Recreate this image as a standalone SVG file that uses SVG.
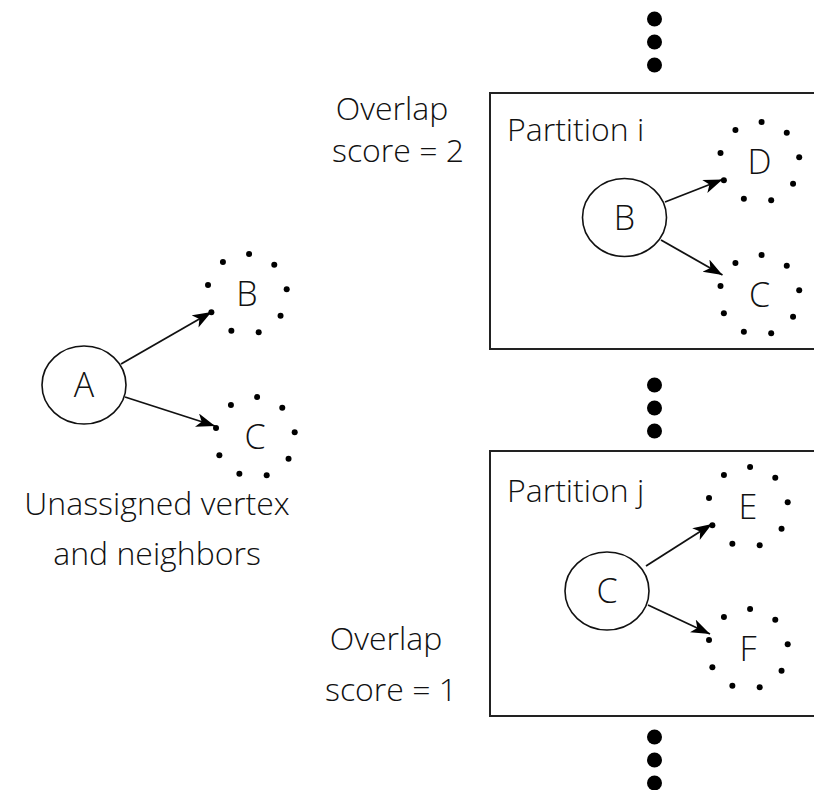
<svg xmlns="http://www.w3.org/2000/svg" xmlns:xlink="http://www.w3.org/1999/xlink" width="814" height="790" viewBox="0 0 814 790">
<style>
  .txt { font-family: "Open Sans", "Liberation Sans", sans-serif; font-size: 32px; font-weight: 300; fill: #111; }
  .lbl { font-family: "Open Sans", "Liberation Sans", sans-serif; font-size: 34px; font-weight: 300; fill: #111; text-anchor: middle; }
  .node { fill: #fff; stroke: #111; stroke-width: 1.6; }
  .box { fill: none; stroke: #222; stroke-width: 2; }
  .edge { stroke: #111; stroke-width: 1.8; fill: none; marker-end: url(#arrow); }
  .big { fill: #000; }
</style>
<defs>
  <marker id="arrow" markerUnits="userSpaceOnUse" markerWidth="20" markerHeight="15" refX="19" refY="7" orient="auto">
    <path d="M0,0 L19,7 L0,14 L5,7 Z" fill="#000"/>
  </marker>
  <g id="ring" fill="#000">
    <circle cx="2.09" cy="-39.95" r="3"/>
    <circle cx="27.28" cy="-29.25" r="3"/>
    <circle cx="39.70" cy="-4.87" r="3"/>
    <circle cx="33.55" cy="21.79" r="3"/>
    <circle cx="11.69" cy="38.25" r="3"/>
    <circle cx="-15.63" cy="36.82" r="3"/>
    <circle cx="-35.64" cy="18.16" r="3"/>
    <circle cx="-38.98" cy="-9.00" r="3"/>
    <circle cx="-24.07" cy="-31.95" r="3"/>
  </g>
</defs>
<rect width="814" height="790" fill="#fff"/>

<!-- partition boxes -->
<g id="partition-i">
  <rect class="box" x="490" y="93" width="330" height="256"/>
  <text class="txt" x="507" y="141">Partition i</text>
</g>
<g id="partition-j">
  <rect class="box" x="490" y="451" width="330" height="265"/>
  <text class="txt" x="507" y="502">Partition j</text>
</g>

<!-- ellipsis dots -->
<g id="ellipsis-top" class="big">
  <circle cx="654.5" cy="19" r="7.5"/>
  <circle cx="654.5" cy="42" r="7.5"/>
  <circle cx="654.5" cy="65" r="7.5"/>
</g>
<g id="ellipsis-mid" class="big">
  <circle cx="654.5" cy="385" r="7.5"/>
  <circle cx="654.5" cy="408" r="7.5"/>
  <circle cx="654.5" cy="431" r="7.5"/>
</g>
<g id="ellipsis-bottom" class="big">
  <circle cx="654.5" cy="737" r="7.5"/>
  <circle cx="654.5" cy="760" r="7.5"/>
  <circle cx="654.5" cy="783" r="7.5"/>
</g>

<!-- connectors -->
<g id="connectors">
  <line class="edge" x1="121" y1="364" x2="211.5" y2="312"/>
  <line class="edge" x1="125" y1="397" x2="215" y2="426"/>
  <line class="edge" x1="665" y1="202" x2="722.5" y2="179.5"/>
  <line class="edge" x1="661" y1="240" x2="722.5" y2="275"/>
  <line class="edge" x1="646" y1="566" x2="712" y2="524"/>
  <line class="edge" x1="648" y1="605" x2="710" y2="634"/>
</g>

<!-- left: unassigned vertex -->
<g id="node-A">
  <ellipse class="node" cx="84" cy="385" rx="42" ry="39"/>
  <text class="lbl" x="84" y="397">A</text>
</g>
<g id="node-B-left">
  <use xlink:href="#ring" x="247" y="294"/>
  <text class="lbl" x="247" y="306">B</text>
</g>
<g id="node-C-left">
  <use xlink:href="#ring" x="255" y="437"/>
  <text class="lbl" x="255" y="449">C</text>
</g>
<g id="caption">
  <text class="txt" x="157" y="515" text-anchor="middle">Unassigned vertex</text>
  <text class="txt" x="157" y="565" text-anchor="middle">and neighbors</text>
</g>

<!-- partition i contents -->
<g id="node-B">
  <ellipse class="node" cx="624.5" cy="217.5" rx="42" ry="39"/>
  <text class="lbl" x="624.5" y="229.5">B</text>
</g>
<g id="node-D">
  <use xlink:href="#ring" x="759.5" y="162"/>
  <text class="lbl" x="759.5" y="174">D</text>
</g>
<g id="node-C-i">
  <use xlink:href="#ring" x="759.5" y="295"/>
  <text class="lbl" x="759.5" y="307">C</text>
</g>

<!-- partition j contents -->
<g id="node-C-j">
  <ellipse class="node" cx="607" cy="591" rx="42" ry="39"/>
  <text class="lbl" x="607" y="603">C</text>
</g>
<g id="node-E">
  <use xlink:href="#ring" x="748" y="507"/>
  <text class="lbl" x="748" y="519">E</text>
</g>
<g id="node-F">
  <use xlink:href="#ring" x="748" y="649"/>
  <text class="lbl" x="748" y="661">F</text>
</g>

<!-- overlap scores -->
<g id="score-i">
  <text class="txt" x="392" y="120" text-anchor="middle">Overlap</text>
  <text class="txt" x="398" y="162" text-anchor="middle">score = 2</text>
</g>
<g id="score-j">
  <text class="txt" x="386" y="650" text-anchor="middle">Overlap</text>
  <text class="txt" x="391" y="701" text-anchor="middle">score = 1</text>
</g>
</svg>
